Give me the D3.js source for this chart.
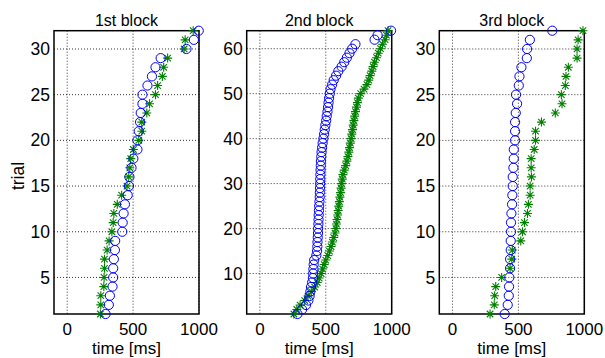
<!DOCTYPE html>
<html>
<head>
<meta charset="utf-8">
<script src="https://cdn.jsdelivr.net/npm/d3@7"></script>
<style>
  body { margin: 0; background: #fff; }
  svg { display: block; font-family: "Liberation Sans", Arial, sans-serif; }
</style>
</head>
<body>
<svg id="chart" width="605" height="358"></svg>
<script>
// reaction times (ms), sorted per trial
const titles = ["1st block", "2nd block", "3rd block"];
const xTicks = [0, 500, 1000];
const yTicks1 = [5, 10, 15, 20, 25, 30];
const yTicks2 = [10, 20, 30, 40, 50, 60];

const block1Circles = [291, 316, 324, 344, 349, 349, 354, 362, 364, 418, 421, 428, 438, 459, 469, 472,
    488, 502, 533, 533, 543, 553, 558, 571, 571, 609, 643, 670, 709, 905, 961, 998];
const block1Stars = [252, 255, 255, 278, 280, 283, 283, 303, 318, 339, 349, 354, 380, 413, 454, 467,
    475, 482, 502, 543, 566, 566, 604, 625, 670, 686, 722, 732, 762, 887, 895, 956];

const block2Circles = [285, 320, 350, 368, 377, 383, 388, 396, 402, 404, 406, 408, 412, 428, 434, 436,
    437, 439, 441, 442, 444, 445, 446, 448, 450, 452, 454, 455, 456, 457, 458, 459,
    460, 462, 463, 466, 468, 472, 476, 482, 487, 492, 497, 503, 507, 513, 517, 521,
    525, 530, 536, 548, 560, 578, 595, 620, 640, 660, 680, 700, 725, 870, 893, 995];
const block2Stars = [258, 280, 305, 340, 365, 390, 415, 435, 450, 465, 476, 488, 500, 515, 528, 540,
    550, 560, 570, 577, 581, 585, 590, 594, 598, 603, 607, 612, 616, 620, 625, 630,
    640, 651, 660, 668, 675, 680, 686, 692, 697, 703, 708, 713, 719, 725, 733, 740,
    747, 765, 790, 812, 826, 836, 849, 859, 869, 885, 898, 915, 930, 950, 960, 972];

const block3Circles = [396, 419, 427, 429, 431, 437, 437, 442, 442, 444, 444, 447, 452, 454, 457, 457,
    462, 465, 465, 475, 475, 475, 480, 490, 482, 503, 508, 523, 564, 566, 587, 757];
const block3Stars = [285, 317, 320, 328, 373, 437, 450, 454, 518, 531, 546, 569, 576, 589, 589, 599,
    597, 597, 620, 630, 630, 675, 780, 831, 826, 856, 861, 879, 945, 945, 953, 990];

const panels = [
    { title: titles[0], left: 54, circles: block1Circles, stars: block1Stars, yMax: 32, yTicks: yTicks1 },
    { title: titles[1], left: 246.7, circles: block2Circles, stars: block2Stars, yMax: 64, yTicks: yTicks2 },
    { title: titles[2], left: 439.3, circles: block3Circles, stars: block3Stars, yMax: 32, yTicks: yTicks1 }
];

const plotTop = 30.7, plotBottom = 314, plotWidth = 145;
const svg = d3.select("#chart");

function starPath(r) {
    const d = r * 0.72;
    return `M${-r},0H${r}M0,${-r}V${r}M${-d},${-d}L${d},${d}M${-d},${d}L${d},${-d}`;
}

panels.forEach(p => {
    const x = d3.scaleLinear().domain([-100, 1000]).range([p.left, p.left + plotWidth]);
    const y = d3.scaleLinear().domain([1, p.yMax]).range([plotBottom, plotTop]);
    const g = svg.append("g");

    // grid
    g.selectAll(".gx").data(xTicks).enter().append("line")
        .attr("x1", d => x(d)).attr("x2", d => x(d))
        .attr("y1", plotTop).attr("y2", plotBottom)
        .attr("stroke", "#000").attr("stroke-width", 0.8)
        .attr("stroke-dasharray", "1,2");
    g.selectAll(".gy").data(p.yTicks).enter().append("line")
        .attr("x1", p.left).attr("x2", p.left + plotWidth)
        .attr("y1", d => y(d)).attr("y2", d => y(d))
        .attr("stroke", "#000").attr("stroke-width", 0.8)
        .attr("stroke-dasharray", "1,2");

    // box
    g.append("rect")
        .attr("x", p.left).attr("y", plotTop)
        .attr("width", plotWidth).attr("height", plotBottom - plotTop)
        .attr("fill", "none").attr("stroke", "#000").attr("stroke-width", 1.5);

    // tick labels
    g.selectAll(".tx").data(xTicks).enter().append("text")
        .attr("x", d => x(d)).attr("y", plotBottom + 20.5)
        .attr("text-anchor", "middle").attr("font-size", 17)
        .text(d => d);
    g.selectAll(".ty").data(p.yTicks).enter().append("text")
        .attr("x", p.left - 4).attr("y", d => y(d))
        .attr("dy", "0.35em")
        .attr("text-anchor", "end").attr("font-size", 17.5)
        .text(d => d);

    g.append("text")
        .attr("x", p.left + plotWidth / 2).attr("y", 26)
        .attr("text-anchor", "middle").attr("font-size", 16)
        .text(p.title);
    g.append("text")
        .attr("x", p.left + plotWidth / 2).attr("y", 354)
        .attr("text-anchor", "middle").attr("font-size", 17)
        .text("time [ms]");

    // markers
    g.selectAll(".star").data(p.stars).enter().append("path")
        .attr("d", starPath(4.5))
        .attr("transform", (d, i) => `translate(${x(d)},${y(i + 1)})`)
        .attr("stroke", "#008000").attr("stroke-width", 1.1).attr("fill", "none");
    g.selectAll(".circ").data(p.circles).enter().append("circle")
        .attr("cx", d => x(d)).attr("cy", (d, i) => y(i + 1))
        .attr("r", 4.6)
        .attr("stroke", "#0000ff").attr("stroke-width", 1).attr("fill", "none");
});

svg.append("text")
    .attr("transform", "translate(24,176) rotate(-90)")
    .attr("text-anchor", "middle").attr("font-size", 17.5)
    .text("trial");
</script>
</body>
</html>
